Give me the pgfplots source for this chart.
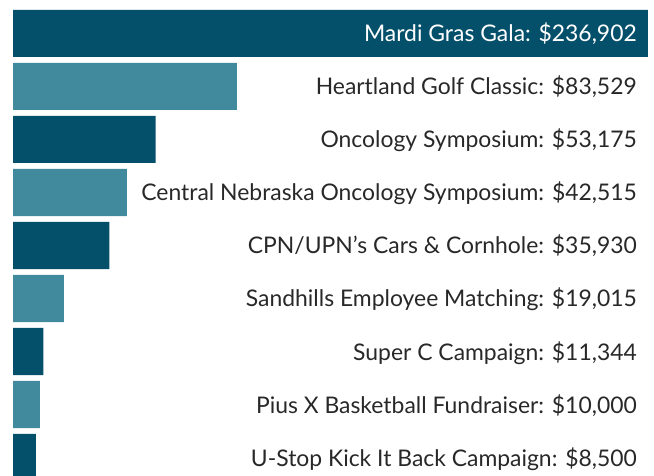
\documentclass[border=0pt]{standalone}
\usepackage{pgfplots}
\pgfplotsset{compat=1.18}
\usepackage{pgfplotstable}
\usepackage{fontspec}
\setmainfont{Lato}
\definecolor{darkteal}{RGB}{4,80,107}
\definecolor{lightteal}{RGB}{65,138,158}
\definecolor{txt}{RGB}{40,40,40}

\pgfplotstableread[col sep=semicolon]{
v;y
236902;0
53175;2
35930;4
11344;6
8500;8
}\darkdata
\pgfplotstableread[col sep=semicolon]{
v;y
83529;1
42515;3
19015;5
10000;7
}\lightdata
\pgfplotstableread[col sep=semicolon]{
x;y;label
232800;1;Heartland Golf Classic: \$83,529
232800;2;Oncology Symposium: \$53,175
232800;3;Central Nebraska Oncology Symposium: \$42,515
232800;4;CPN/UPN’s Cars \& Cornhole: \$35,930
232800;5;Sandhills Employee Matching: \$19,015
232800;6;Super C Campaign: \$11,344
232800;7;Pius X Basketball Fundraiser: \$10,000
232800;8;U-Stop Kick It Back Campaign: \$8,500
}\labeldata
\pgfplotstableread[col sep=semicolon]{
x;y;label
232800;0;Mardi Gras Gala: \$236,902
}\firstlabel

\begin{document}
\begin{tikzpicture}
\begin{axis}[
  scale only axis, width=654pt, height=476pt,
  hide axis,
  xmin=-4850, xmax=239143,
  ymin=-0.632, ymax=8.349, y dir=reverse,
  xbar, bar width=0.887, bar shift=0pt,
  clip mode=individual,
]
\addplot[fill=darkteal, draw=none] table[x=v, y=y] {\darkdata};
\addplot[fill=lightteal, draw=none] table[x=v, y=y] {\lightdata};
\addplot[draw=none, mark=none, xbar=false, nodes near coords, point meta=explicit symbolic,
  nodes near coords style={anchor=base east, yshift=-8.5pt, inner sep=0pt, font=\fontsize{22.9}{26}\selectfont, text=txt}]
  table[x=x, y=y, meta=label] {\labeldata};
\addplot[draw=none, mark=none, xbar=false, nodes near coords, point meta=explicit symbolic,
  nodes near coords style={anchor=base east, yshift=-8.5pt, inner sep=0pt, font=\fontsize{22.9}{26}\selectfont, text=white}]
  table[x=x, y=y, meta=label] {\firstlabel};
\end{axis}
\pgfresetboundingbox
\useasboundingbox (0,0) rectangle (654pt,476pt);
\end{tikzpicture}
\end{document}
